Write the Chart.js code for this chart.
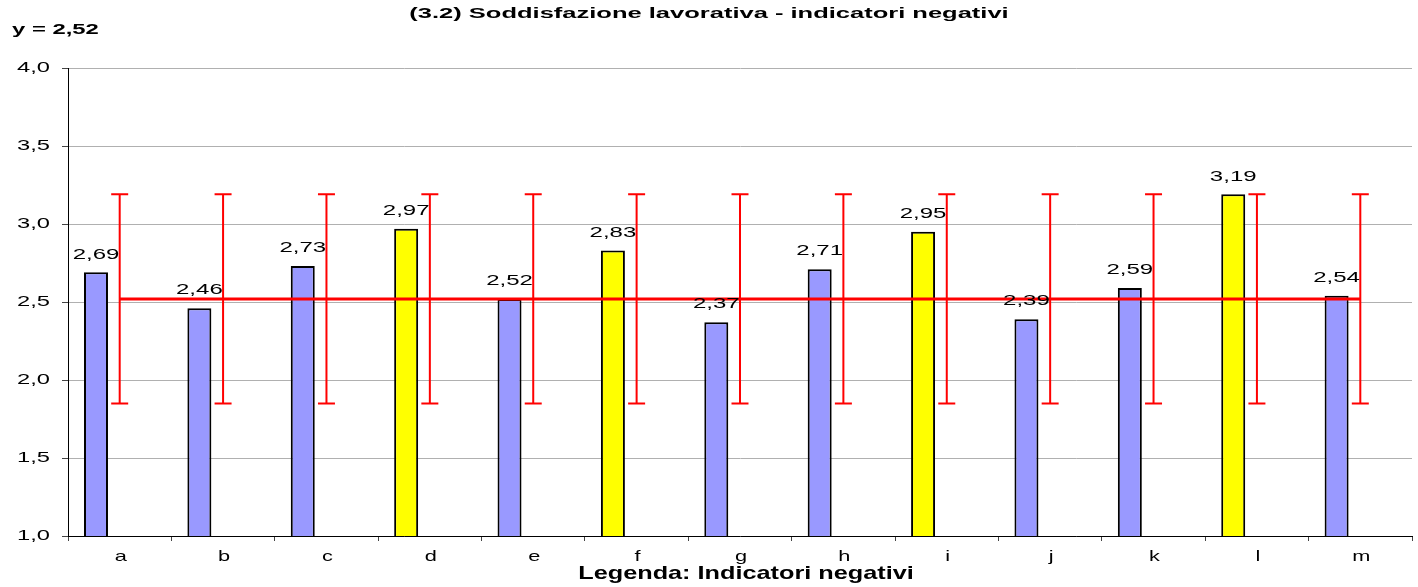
<!DOCTYPE html>
<html lang="it">
<head>
<meta charset="utf-8">
<title>Soddisfazione lavorativa - indicatori negativi</title>
<script src="https://cdn.jsdelivr.net/npm/chart.js@4.4.1/dist/chart.umd.min.js"></script>
<style>
  html, body { margin: 0; padding: 0; background: #fff; }
  canvas { display: block; }
</style>
</head>
<body>
<canvas id="grafico" width="1418" height="587"></canvas>
<script>
// dati
const categorie = ["a", "b", "c", "d", "e", "f", "g", "h", "i", "j", "k", "l", "m"];
const valori = [2.69, 2.46, 2.73, 2.97, 2.52, 2.83, 2.37, 2.71, 2.95, 2.39, 2.59, 3.19, 2.54];
const evidenziati = [false, false, false, true, false, true, false, false, true, false, false, true, false];
const media = [2.52, 2.52, 2.52, 2.52, 2.52, 2.52, 2.52, 2.52, 2.52, 2.52, 2.52, 2.52, 2.52];
const erroreMin = [1.85, 1.85, 1.85, 1.85, 1.85, 1.85, 1.85, 1.85, 1.85, 1.85, 1.85, 1.85, 1.85];
const erroreMax = [3.19, 3.19, 3.19, 3.19, 3.19, 3.19, 3.19, 3.19, 3.19, 3.19, 3.19, 3.19, 3.19];
const tickY = [1.0, 1.5, 2.0, 2.5, 3.0, 3.5, 4.0];
const titolo = "(3.2) Soddisfazione lavorativa - indicatori negativi";
const sottotitolo = "y = 2,52";
const titoloAsseX = "Legenda: Indicatori negativi";

const FONT = '"Liberation Sans", Arial, sans-serif';
const virgola = (v, d) => v.toFixed(d).replace(".", ",");

// testo "stirato" in orizzontale come nell'originale
function testoStirato(ctx, testo, x, y, font, sx, align) {
  ctx.save();
  ctx.font = font;
  ctx.fillStyle = "#000";
  ctx.textAlign = align;
  ctx.textBaseline = "middle";
  ctx.translate(x, y);
  ctx.scale(sx, 1);
  ctx.fillText(testo, 0, 0);
  ctx.restore();
}

const barreErrore = {
  id: "barreErrore",
  afterDatasetsDraw(chart) {
    const ctx = chart.ctx, x = chart.scales.x, y = chart.scales.y;
    ctx.save();
    ctx.strokeStyle = "#ff0000";
    ctx.lineWidth = 2;
    erroreMin.forEach((lo, i) => {
      const px = x.getPixelForValue(i);
      const y1 = y.getPixelForValue(lo), y2 = y.getPixelForValue(erroreMax[i]);
      ctx.beginPath();
      ctx.moveTo(px, y1); ctx.lineTo(px, y2);
      ctx.moveTo(px - 8.5, y1); ctx.lineTo(px + 8.5, y1);
      ctx.moveTo(px - 8.5, y2); ctx.lineTo(px + 8.5, y2);
      ctx.stroke();
    });
    ctx.restore();
  }
};

const testi = {
  id: "testi",
  afterDraw(chart) {
    const ctx = chart.ctx, x = chart.scales.x, y = chart.scales.y;
    // etichette degli assi
    y.ticks.forEach(t => {
      testoStirato(ctx, virgola(t.value, 1), x.left - 18, y.getPixelForValue(t.value), "15px " + FONT, 1.58, "right");
    });
    categorie.forEach((c, i) => {
      testoStirato(ctx, c, x.getPixelForValue(i) + 1, y.bottom + 21, "15px " + FONT, 1.45, "center");
    });
    // valori sopra le barre
    const meta = chart.getDatasetMeta(1);
    meta.data.forEach((bar, i) => {
      testoStirato(ctx, virgola(valori[i], 2), bar.x, bar.y - 18, "15px " + FONT, 1.6, "center");
    });
    testoStirato(ctx, titolo, 709, 14, "bold 15px " + FONT, 1.7, "center");
    testoStirato(ctx, sottotitolo, 12, 30, "bold 15px " + FONT, 1.59, "left");
    testoStirato(ctx, titoloAsseX, 746, 574, "bold 19px " + FONT, 1.33, "center");
  }
};

new Chart(document.getElementById("grafico"), {
  type: "bar",
  data: {
    labels: categorie,
    datasets: [
      {
        type: "line",
        label: "Media",
        data: media,
        borderColor: "#ff0000",
        borderWidth: 3,
        pointRadius: 0,
        fill: false,
        order: 0
      },
      {
        label: "Indicatori negativi",
        data: valori,
        backgroundColor: evidenziati.map(e => e ? "#ffff00" : "#9999ff"),
        borderColor: "#000",
        borderWidth: 2,
        categoryPercentage: 0.917,
        barPercentage: 0.506,
        order: 1
      },
      {
        label: "",
        data: categorie.map(() => null),
        categoryPercentage: 0.917,
        barPercentage: 0.506,
        order: 2
      }
    ]
  },
  options: {
    responsive: false,
    animation: false,
    layout: { padding: { top: 68, right: 6, bottom: 0, left: 0 } },
    plugins: {
      legend: { display: false },
      title: { display: false },
      tooltip: { enabled: false }
    },
    scales: {
      x: {
        offset: true,
        grid: { offset: true, drawOnChartArea: false, drawTicks: true, tickLength: 5, tickColor: "#444" },
        border: { color: "#000", width: 1 },
        ticks: { display: false },
        afterFit(s) { s.height = 51; }
      },
      y: {
        min: 1, max: 4,
        afterBuildTicks(s) { s.ticks = tickY.map(v => ({ value: v })); },
        grid: { color: "#b0b0b0", tickLength: 6, tickColor: "#444" },
        border: { color: "#000", width: 1 },
        ticks: { display: false },
        afterFit(s) { s.width = 68; }
      }
    }
  },
  plugins: [barreErrore, testi]
});
</script>
</body>
</html>
